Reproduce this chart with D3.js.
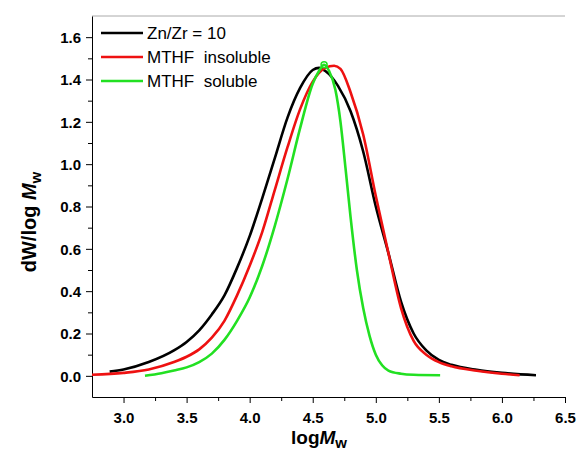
<!DOCTYPE html>
<html lang="en">
<head>
<meta charset="UTF-8">
<title>GPC curves</title>
<script src="https://d3js.org/d3.v7.min.js"></script>
<style>
    body { margin: 0; background: #fff; }
    svg { display: block; font-family: "Liberation Sans", Arial, sans-serif; }
</style>
</head>
<body>
<script>

    // log Mw positions and dW/logMw values
    var blackX = [2.89, 3.0, 3.2, 3.4, 3.5, 3.6, 3.7, 3.8, 3.9, 4.0, 4.1, 4.2, 4.3, 4.4, 4.5, 4.55, 4.6, 4.7, 4.8, 4.9, 5.0, 5.1, 5.2, 5.3, 5.4, 5.5, 5.6, 5.8, 6.0, 6.27];
    var blackY = [0.02, 0.03, 0.065, 0.12, 0.16, 0.215, 0.29, 0.38, 0.51, 0.66, 0.84, 1.03, 1.22, 1.36, 1.445, 1.455, 1.44, 1.37, 1.25, 1.06, 0.80, 0.58, 0.35, 0.20, 0.12, 0.075, 0.052, 0.028, 0.014, 0.003];

    var redX = [2.75, 3.0, 3.2, 3.4, 3.5, 3.6, 3.7, 3.8, 3.9, 4.0, 4.1, 4.2, 4.3, 4.4, 4.5, 4.6, 4.67, 4.72, 4.8, 4.9, 5.0, 5.1, 5.2, 5.3, 5.4, 5.5, 5.6, 5.8, 6.0, 6.14];
    var redY = [0.005, 0.014, 0.03, 0.065, 0.09, 0.125, 0.18, 0.26, 0.38, 0.52, 0.68, 0.88, 1.08, 1.26, 1.39, 1.455, 1.465, 1.45, 1.34, 1.14, 0.85, 0.58, 0.32, 0.165, 0.10, 0.065, 0.045, 0.024, 0.01, 0.003];

    var greenX = [3.17, 3.3, 3.4, 3.5, 3.6, 3.7, 3.8, 3.9, 4.0, 4.1, 4.2, 4.3, 4.4, 4.5, 4.55, 4.59, 4.63, 4.68, 4.72, 4.76, 4.8, 4.85, 4.9, 4.95, 5.0, 5.05, 5.1, 5.2, 5.3, 5.51];
    var greenY = [0.0, 0.012, 0.025, 0.04, 0.065, 0.105, 0.17, 0.26, 0.37, 0.52, 0.71, 0.93, 1.17, 1.38, 1.44, 1.47, 1.44, 1.35, 1.20, 0.98, 0.75, 0.50, 0.32, 0.19, 0.10, 0.05, 0.025, 0.01, 0.005, 0.003];

    var seriesNames = ["Zn/Zr = 10", "MTHF  insoluble", "MTHF  soluble"];
    var seriesColors = ["#000000", "#ee1111", "#22e022"];

    var xTicks = [3.0, 3.5, 4.0, 4.5, 5.0, 5.5, 6.0, 6.5];
    var xMinor = [3.25, 3.75, 4.25, 4.75, 5.25, 5.75, 6.25];
    var yTicks = [0.0, 0.2, 0.4, 0.6, 0.8, 1.0, 1.2, 1.4, 1.6];
    var yMinor = [0.1, 0.3, 0.5, 0.7, 0.9, 1.1, 1.3, 1.5];

    var width = 579;
    var height = 452;
    var plotLeft = 92, plotRight = 565, plotTop = 16, plotBottom = 397;

    var svg = d3.select("body").append("svg")
        .attr("width", width)
        .attr("height", height);

    var x = d3.scaleLinear().domain([2.75, 6.5]).range([plotLeft, plotRight]);
    var y = d3.scaleLinear().domain([-0.1, 1.7]).range([plotBottom, plotTop]);

    // top border line, light grey
    svg.append("line")
        .attr("x1", plotLeft).attr("x2", plotRight)
        .attr("y1", plotTop).attr("y2", plotTop)
        .attr("stroke", "#aaaaaa")
        .attr("stroke-width", 1);

    // x axis
    var xAxis = svg.append("g")
        .attr("transform", "translate(0," + plotBottom + ")")
        .call(d3.axisBottom(x).tickValues(xTicks).tickSize(6).tickSizeOuter(0)
            .tickFormat(d3.format(".1f")));
    svg.append("g")
        .attr("transform", "translate(0," + plotBottom + ")")
        .call(d3.axisBottom(x).tickValues(xMinor).tickSize(4).tickSizeOuter(0).tickFormat(""))
        .select(".domain").remove();

    // y axis
    var yAxis = svg.append("g")
        .attr("transform", "translate(" + plotLeft + ",0)")
        .call(d3.axisLeft(y).tickValues(yTicks).tickSize(6).tickSizeOuter(0)
            .tickFormat(d3.format(".1f")));
    svg.append("g")
        .attr("transform", "translate(" + plotLeft + ",0)")
        .call(d3.axisLeft(y).tickValues(yMinor).tickSize(4).tickSizeOuter(0).tickFormat(""))
        .select(".domain").remove();

    svg.selectAll(".domain").attr("stroke", "#000").attr("stroke-width", 1);
    svg.selectAll(".tick line").attr("stroke", "#000");
    svg.selectAll(".tick text")
        .style("font-family", "'Liberation Sans', Arial, sans-serif")
        .style("font-size", "15px")
        .style("font-weight", "bold")
        .attr("fill", "#000");
    xAxis.selectAll("text").attr("dy", null).attr("y", 26);
    yAxis.selectAll("text").attr("x", -11).attr("dy", "0.36em");

    // axis titles
    var xTitle = svg.append("text")
        .attr("x", 319)
        .attr("y", 444)
        .attr("text-anchor", "middle")
        .attr("font-weight", "bold")
        .attr("font-size", "19px");
    xTitle.append("tspan").text("log");
    xTitle.append("tspan").attr("font-style", "italic").text("M");
    xTitle.append("tspan").attr("font-size", "15px").attr("dy", 4).text("w");

    var yTitle = svg.append("text")
        .attr("transform", "translate(36,222) rotate(-90)")
        .attr("text-anchor", "middle")
        .attr("font-weight", "bold")
        .attr("font-size", "20px");
    yTitle.append("tspan").text("dW/log ");
    yTitle.append("tspan").attr("font-style", "italic").text("M");
    yTitle.append("tspan").attr("font-size", "15px").attr("dy", 5).text("w");

    // curves
    var series = [
        { xs: blackX, ys: blackY },
        { xs: redX, ys: redY },
        { xs: greenX, ys: greenY }
    ];

    var line = d3.line()
        .x(function (d) { return x(d[0]); })
        .y(function (d) { return y(d[1]); })
        .curve(d3.curveMonotoneX);

    series.forEach(function (s, i) {
        var pts = s.xs.map(function (v, j) { return [v, s.ys[j]]; });
        svg.append("path")
            .datum(pts)
            .attr("d", line)
            .attr("fill", "none")
            .attr("stroke", seriesColors[i])
            .attr("stroke-width", 2.6)
            .attr("stroke-linejoin", "round");
    });

    // small ring at the top of the soluble peak
    var gi = greenY.indexOf(d3.max(greenY));
    svg.append("circle")
        .attr("cx", x(greenX[gi]))
        .attr("cy", y(greenY[gi]))
        .attr("r", 3)
        .attr("fill", "none")
        .attr("stroke", seriesColors[2])
        .attr("stroke-width", 1.5);

    // legend
    var legend = svg.append("g");
    seriesNames.forEach(function (name, i) {
        var ly = 33 + i * 24;
        legend.append("line")
            .attr("x1", 101).attr("x2", 143)
            .attr("y1", ly).attr("y2", ly)
            .attr("stroke", seriesColors[i])
            .attr("stroke-width", 2.6);
        legend.append("text")
            .attr("x", 147)
            .attr("y", ly + 6)
            .attr("font-size", "17px")
            .attr("fill", "#000")
            .style("white-space", "pre")
            .text(name);
    });

</script>
</body>
</html>
